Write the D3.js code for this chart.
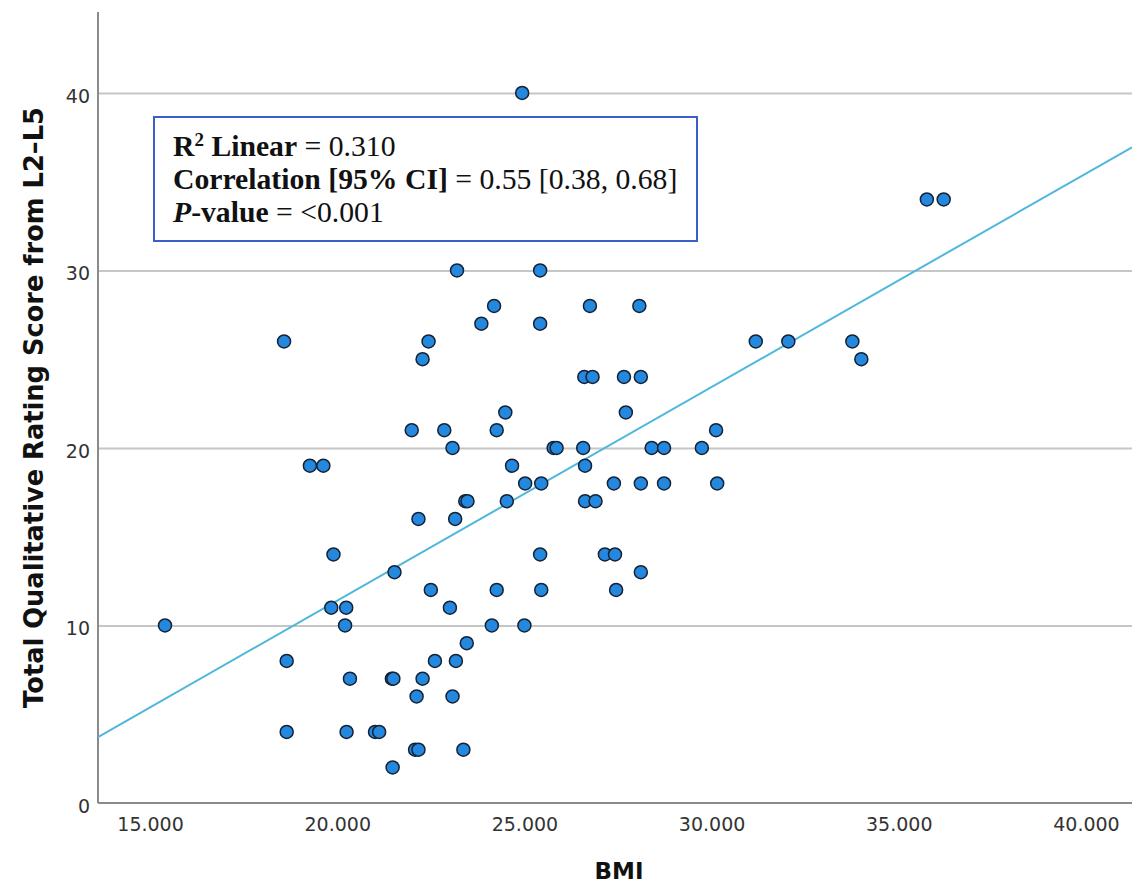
<!DOCTYPE html>
<html>
<head>
<meta charset="utf-8">
<script src="https://cdn.jsdelivr.net/npm/d3@7"></script>
<style>
    body { margin: 0; background: #fff; }
    svg { display: block; }
</style>
</head>
<body>
<svg></svg>
<script>
//-------------------
// DATA
//-------------------
var bmi = [
    24.94,
    35.75, 36.20,
    23.20, 25.42,
    24.19, 26.75, 28.07,
    23.85, 25.42,
    18.58, 22.44, 31.18, 32.05, 33.76,
    22.28, 34.00,
    26.60, 26.82, 27.66, 28.11,
    24.49, 27.71,
    21.99, 22.86, 24.26, 30.12,
    23.08, 25.78, 25.86, 26.57, 28.40, 28.73, 29.74,
    19.27, 19.63, 24.67, 26.62,
    25.02, 25.45, 27.39, 28.11, 28.73, 30.15,
    23.42, 23.48, 24.53, 26.62, 26.90,
    22.17, 23.15,
    19.90, 25.42, 27.15, 27.42,
    21.53, 28.11,
    22.50, 24.26, 25.45, 27.45,
    19.84, 20.24, 23.01,
    15.40, 20.21, 24.13, 25.00,
    23.46,
    18.65, 22.61, 23.17,
    20.34, 21.46, 21.50, 22.28,
    22.12, 23.08,
    18.65, 20.25, 21.01, 21.12,
    22.08, 22.17, 23.37,
    21.48
];
var score = [
    40,
    34, 34,
    30, 30,
    28, 28, 28,
    27, 27,
    26, 26, 26, 26, 26,
    25, 25,
    24, 24, 24, 24,
    22, 22,
    21, 21, 21, 21,
    20, 20, 20, 20, 20, 20, 20,
    19, 19, 19, 19,
    18, 18, 18, 18, 18, 18,
    17, 17, 17, 17, 17,
    16, 16,
    14, 14, 14, 14,
    13, 13,
    12, 12, 12, 12,
    11, 11, 11,
    10, 10, 10, 10,
    9,
    8, 8, 8,
    7, 7, 7, 7,
    6, 6,
    4, 4, 4, 4,
    3, 3, 3,
    2
];
var xTicks = [15, 20, 25, 30, 35, 40];
var yTicks = [0, 10, 20, 30, 40];
var fitIntercept = -12.66,
    fitSlope = 1.203;

//-------------------
// SETUP
//-------------------
var width = 1132,
    height = 885,
    margin = { top: 12, right: 0, bottom: 82, left: 98 };
var innerW = width - margin.left - margin.right,
    innerH = height - margin.top - margin.bottom;

var svg = d3.select("svg")
    .attr("width", width)
    .attr("height", height);

var g = svg.append("g")
    .attr("transform", "translate(" + margin.left + "," + margin.top + ")");

var x = d3.scaleLinear().domain([13.61, 41.23]).range([0, innerW]);
var y = d3.scaleLinear().domain([0, 44.56]).range([innerH, 0]);

//-------------------
// GRID + AXES
//-------------------
var grid = g.append("g")
    .call(d3.axisLeft(y).tickValues(yTicks.filter(d => d > 0)).tickSize(-innerW).tickFormat(""));
grid.select(".domain").remove();
grid.selectAll("line").attr("stroke", "#c6c6c6").attr("stroke-width", 2);

var yAxis = g.append("g")
    .call(d3.axisLeft(y).tickValues(yTicks).tickSize(0).tickPadding(8));
yAxis.select(".domain").remove();
yAxis.selectAll("text")
    .attr("font-family", "DejaVu Sans, Verdana, sans-serif")
    .attr("font-size", 19)
    .attr("fill", "#333")
    .attr("dy", "0.48em");

var xAxis = g.append("g")
    .attr("transform", "translate(0," + innerH + ")")
    .call(d3.axisBottom(x).tickValues(xTicks).tickSize(0).tickPadding(15).tickFormat(d3.format(".3f")));
xAxis.select(".domain").remove();
xAxis.selectAll("text")
    .attr("font-family", "DejaVu Sans, Verdana, sans-serif")
    .attr("font-size", 19)
    .attr("fill", "#333");

// axis lines
g.append("line")
    .attr("x1", 0).attr("x2", 0)
    .attr("y1", 0).attr("y2", innerH)
    .attr("stroke", "#8a8a8a").attr("stroke-width", 2);
g.append("line")
    .attr("x1", 0).attr("x2", innerW)
    .attr("y1", innerH).attr("y2", innerH)
    .attr("stroke", "#8a8a8a").attr("stroke-width", 2);

//-------------------
// FIT LINE
//-------------------
g.append("clipPath").attr("id", "plot-clip")
    .append("rect").attr("width", innerW).attr("height", innerH);

var fitX = x.domain();
g.append("line")
    .attr("clip-path", "url(#plot-clip)")
    .attr("x1", x(fitX[0])).attr("y1", y(fitIntercept + fitSlope * fitX[0]))
    .attr("x2", x(fitX[1])).attr("y2", y(fitIntercept + fitSlope * fitX[1]))
    .attr("stroke", "#4fb6dc")
    .attr("stroke-width", 2);

//-------------------
// POINTS
//-------------------
g.selectAll("circle.pt")
    .data(d3.range(bmi.length))
    .enter()
    .append("circle")
    .attr("class", "pt")
    .attr("cx", i => x(bmi[i]))
    .attr("cy", i => y(score[i]))
    .attr("r", 6.5)
    .attr("fill", "#2489de")
    .attr("stroke", "#152235")
    .attr("stroke-width", 1.5);

//-------------------
// ANNOTATION BOX
//-------------------
var box = svg.append("g");
box.append("rect")
    .attr("x", 154).attr("y", 117)
    .attr("width", 543).attr("height", 124)
    .attr("fill", "#fff")
    .attr("stroke", "#3b5fc8")
    .attr("stroke-width", 2);

var lines = box.append("text")
    .attr("font-family", "Liberation Serif, Times New Roman, serif")
    .attr("font-size", 29.7)
    .attr("fill", "#111");

var l1 = lines.append("tspan").attr("x", 173).attr("y", 156);
l1.append("tspan").attr("font-weight", "bold").text("R");
l1.append("tspan").attr("font-weight", "bold").attr("font-size", 19).attr("dy", -10).text("2");
l1.append("tspan").attr("font-weight", "bold").attr("dy", 10).text(" Linear");
l1.append("tspan").text(" = 0.310");

var l2 = lines.append("tspan").attr("x", 173).attr("y", 189);
l2.append("tspan").attr("font-weight", "bold").text("Correlation [95% CI]");
l2.append("tspan").text(" = 0.55 [0.38, 0.68]");

var l3 = lines.append("tspan").attr("x", 173).attr("y", 222);
l3.append("tspan").attr("font-weight", "bold").attr("font-style", "italic").text("P");
l3.append("tspan").attr("font-weight", "bold").text("-value");
l3.append("tspan").text(" = <0.001");

//-------------------
// AXIS TITLES
//-------------------
svg.append("text")
    .attr("transform", "translate(43," + (margin.top + innerH / 2) + ") rotate(-90)")
    .attr("text-anchor", "middle")
    .attr("font-family", "DejaVu Sans, Verdana, sans-serif")
    .attr("font-weight", "bold")
    .attr("font-size", 25.7)
    .attr("fill", "#111")
    .text("Total Qualitative Rating Score from L2\u2013L5");

svg.append("text")
    .attr("x", 619)
    .attr("y", 879)
    .attr("text-anchor", "middle")
    .attr("font-family", "DejaVu Sans, Verdana, sans-serif")
    .attr("font-weight", "bold")
    .attr("font-size", 23)
    .attr("fill", "#111")
    .text("BMI");
</script>
</body>
</html>
